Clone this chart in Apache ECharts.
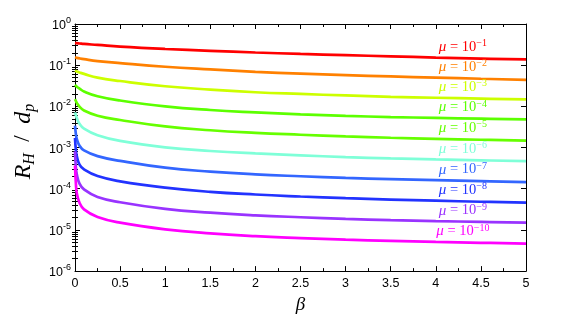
<!DOCTYPE html>
<html><head><meta charset="utf-8">
<script src="https://cdn.jsdelivr.net/npm/echarts@6/dist/echarts.min.js"></script>
<style>html,body{margin:0;padding:0;background:#fff}#c{width:581px;height:319px}</style>
</head><body><div id="c"></div>
<script>
// beta values (x)
const beta = [0, 0.01, 0.02, 0.05, 0.1, 0.25, 0.5, 1, 1.5, 2, 2.5, 3, 3.5, 4, 4.5, 5];
// mu exponents of the curves
const muExp = [-1, -2, -3, -4, -5, -6, -7, -8, -9, -10];
// R_H/d_p for each mu
const r_mu1  = [0.3455, 0.3437, 0.3419, 0.3365, 0.3277, 0.3107, 0.2823, 0.2472, 0.2234, 0.2031, 0.1875, 0.1750, 0.1641, 0.1532, 0.1445, 0.1377];
const r_mu2  = [0.1557, 0.1532, 0.1508, 0.1461, 0.1400, 0.1259, 0.1120, 0.09151, 0.07884, 0.06905, 0.06240, 0.05732, 0.05322, 0.04994, 0.04684, 0.04418];
const r_mu3  = [0.07396, 0.07203, 0.07014, 0.06653, 0.06141, 0.04967, 0.04123, 0.03078, 0.02556, 0.02203, 0.02001, 0.01839, 0.01707, 0.01618, 0.01543, 0.01479];
const r_mu4  = [0.03334, 0.03162, 0.02998, 0.02696, 0.02298, 0.01762, 0.01387, 0.009979, 0.008152, 0.007140, 0.006420, 0.005897, 0.005503, 0.005246, 0.005028, 0.004844];
const r_mu5  = [0.01503, 0.01351, 0.01215, 0.009822, 0.007941, 0.005929, 0.004668, 0.003252, 0.002630, 0.002278, 0.002048, 0.001862, 0.001728, 0.001630, 0.001545, 0.001473];
const r_mu6  = [0.007140, 0.006087, 0.005190, 0.003773, 0.002892, 0.001995, 0.001450, 0.001010, 0.0008254, 0.0007189, 0.0006462, 0.0005875, 0.0005453, 0.0005143, 0.0004903, 0.0004674];
const r_mu7  = [0.003393, 0.002103, 0.001612, 0.001111, 0.0008519, 0.0006195, 0.0004750, 0.0003239, 0.0002604, 0.0002234, 0.0002009, 0.0001835, 0.0001713, 0.0001615, 0.0001531, 0.0001452];
const r_mu8  = [0.001701, 0.0008519, 0.0006195, 0.0003840, 0.0002944, 0.0002030, 0.0001515, 0.0001061, 0.00008402, 0.00007240, 0.00006475, 0.00005884, 0.00005463, 0.00005125, 0.00004834, 0.00004584];
const r_mu9  = [0.0008081, 0.0003274, 0.0002257, 0.0001327, 0.00009645, 0.00006305, 0.00004707, 0.00003244, 0.00002623, 0.00002260, 0.00002032, 0.00001857, 0.00001724, 0.00001635, 0.00001567, 0.00001502];
const r_mu10 = [0.0003641, 0.0001327, 0.00007798, 0.00004584, 0.00003160, 0.00002065, 0.00001502, 0.00001035, 0.000008233, 0.000007060, 0.000006349, 0.000005799, 0.000005412, 0.000005105, 0.000004867, 0.000004665];
// axis tick labels
const xTickLabels = ['0', '0.5', '1', '1.5', '2', '2.5', '3', '3.5', '4', '4.5', '5'];
const yTickExps = ['0', '-1', '-2', '-3', '-4', '-5', '-6'];

const curves = [r_mu1, r_mu2, r_mu3, r_mu4, r_mu5, r_mu6, r_mu7, r_mu8, r_mu9, r_mu10];
const colors = ['#ff0000', '#ff8000', '#ccff00', '#5cff00', '#66ff00', '#7fffd8', '#3366ff', '#2233ff', '#9933ff', '#ff00ff'];

const labelBeta = 4.3;
const serif = 'Liberation Serif';
const sans = 'Liberation Sans';

// minor tick positions (log10 space) for the overlay value axes
const minorLog = [];
for (let e = -6; e < 0; e++) for (let m = 2; m <= 9; m++) minorLog.push(Math.log10(m) + e);

const series = curves.map((vals, k) => ({
  type: 'line',
  xAxisIndex: 0, yAxisIndex: 0,
  data: beta.map((b, i) => [b, vals[i]]),
  showSymbol: false,
  smooth: 0.45,
  lineStyle: { color: colors[k], width: 2.7 },
  itemStyle: { color: colors[k] },
  z: 3,
  markPoint: {
    symbol: 'circle', symbolSize: 1,
    itemStyle: { color: 'rgba(0,0,0,0)' },
    data: [{ coord: [labelBeta, vals[13]] }],
    label: {
      show: true, position: 'inside', offset: [0, -11],
      formatter: '{m|\u03bc}{t| = 10}{s|\u2212' + String(-muExp[k]) + '}',
      rich: {
        m: { fontFamily: serif, fontStyle: 'italic', fontSize: 15, color: colors[k], lineHeight: 16, verticalAlign: 'bottom' },
        t: { fontFamily: serif, fontSize: 14.5, color: colors[k], lineHeight: 16, verticalAlign: 'bottom' },
        s: { fontFamily: serif, fontSize: 10, color: colors[k], lineHeight: 9, verticalAlign: 'top' }
      }
    }
  }
}));

const tickStyle = { show: true, inside: true, length: 5, lineStyle: { color: '#000', width: 1 } };
const minorTickStyle = { show: true, inside: true, length: 3, lineStyle: { color: '#000', width: 1 } };

const option = {
  backgroundColor: '#fff',
  animation: false,
  grid: { left: 75, right: 55, top: 24, bottom: 36, containLabel: false },
  xAxis: [
    {
      type: 'value', position: 'bottom', min: 0, max: 5, interval: 0.5,
      name: '\u03b2', nameLocation: 'middle', nameGap: 17,
      nameTextStyle: { fontFamily: serif, fontStyle: 'italic', fontSize: 19, color: '#000' },
      axisLine: { show: true, onZero: false, lineStyle: { color: '#000', width: 1 } },
      axisTick: tickStyle,
      minorTick: { show: true, splitNumber: 2, length: 3, lineStyle: { color: '#000' } },
      splitLine: { show: false }, minorSplitLine: { show: false },
      axisLabel: { show: true, margin: 6, fontFamily: sans, fontSize: 12.5, color: '#000',
        formatter: (v) => xTickLabels[Math.round(v / 0.5)] }
    },
    {
      type: 'value', position: 'top', min: 0, max: 5, interval: 0.5,
      axisLine: { show: true, onZero: false, lineStyle: { color: '#000', width: 1 } },
      axisTick: tickStyle,
      minorTick: { show: true, splitNumber: 2, length: 3, lineStyle: { color: '#000' } },
      splitLine: { show: false }, axisLabel: { show: false }
    }
  ],
  yAxis: [
    {
      type: 'log', logBase: 10, min: 1e-6, max: 1, splitNumber: 6, position: 'left',
      name: '{r|R}{h|H}{sl|  /  }{r|d}{h|p}', nameLocation: 'middle', nameGap: 23, nameRotate: 90,
      nameTextStyle: {
        padding: [0, 0, 0, 12],
        rich: {
          r: { fontFamily: serif, fontStyle: 'italic', fontSize: 24, color: '#000', lineHeight: 27, verticalAlign: 'top' },
          h: { fontFamily: serif, fontStyle: 'italic', fontSize: 16, color: '#000', lineHeight: 16, verticalAlign: 'bottom' },
          sl: { fontFamily: serif, fontSize: 23, color: '#000', lineHeight: 27, verticalAlign: 'top' }
        }
      },
      axisLine: { show: true, onZero: false, lineStyle: { color: '#000', width: 1 } },
      axisTick: tickStyle,
      splitLine: { show: false },
      axisLabel: {
        show: true, margin: 4,
        formatter: (v) => '{b|10}{s|' + yTickExps[Math.round(-Math.log10(v))] + '}',
        rich: {
          b: { fontFamily: sans, fontSize: 12.5, color: '#000', lineHeight: 16, verticalAlign: 'bottom' },
          s: { fontFamily: sans, fontSize: 9, color: '#000', lineHeight: 9, verticalAlign: 'top' }
        }
      }
    },
    {
      type: 'value', min: -6, max: 0, position: 'left',
      axisLine: { show: false }, splitLine: { show: false }, axisLabel: { show: false },
      axisTick: Object.assign({ customValues: minorLog }, minorTickStyle)
    },
    {
      type: 'log', logBase: 10, min: 1e-6, max: 1, splitNumber: 6, position: 'right',
      axisLine: { show: true, onZero: false, lineStyle: { color: '#000', width: 1 } },
      axisTick: tickStyle, splitLine: { show: false }, axisLabel: { show: false }
    },
    {
      type: 'value', min: -6, max: 0, position: 'right',
      axisLine: { show: false }, splitLine: { show: false }, axisLabel: { show: false },
      axisTick: Object.assign({ customValues: minorLog }, minorTickStyle)
    }
  ],
  series: series
};

const chart = echarts.init(document.getElementById('c'), null, { renderer: 'canvas' });
chart.setOption(option);
</script>
</body></html>
